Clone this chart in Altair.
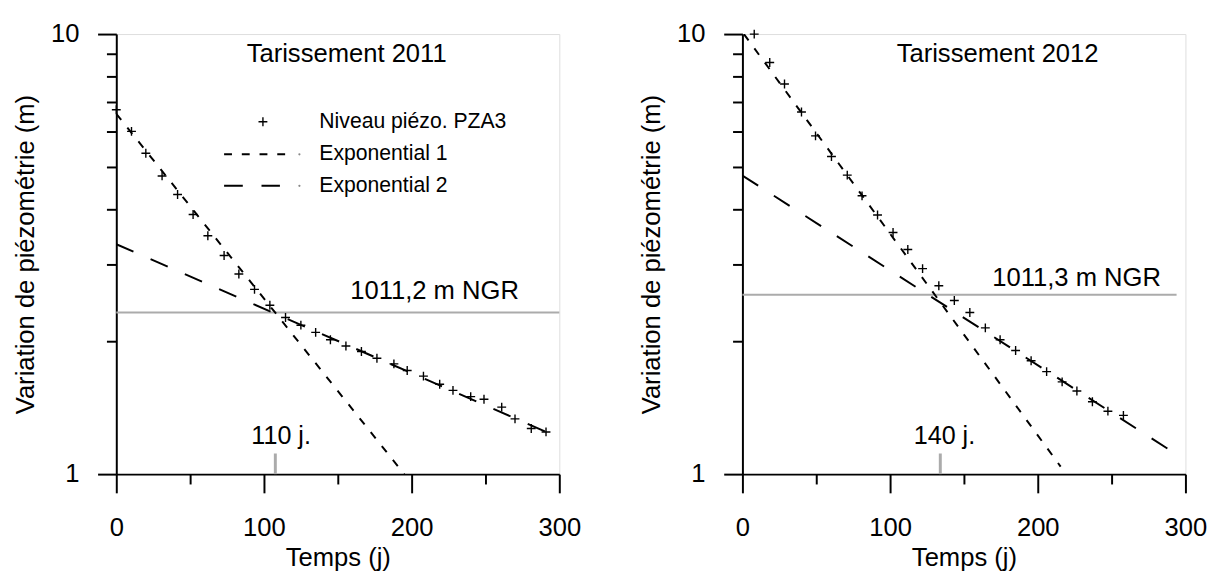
import altair as alt
import pandas as pd

FONT = "Liberation Sans"

# ---------------- data ----------------
# Tarissement 2011 (PZA3)
t_2011 = [0, 10.3, 20, 31, 41.5, 52, 62, 73, 83, 93.6, 104, 114.6, 125, 135, 145,
          155.5, 166, 176.5, 188, 197, 208, 219, 228, 240, 249, 261, 270, 281, 291]
v_2011 = [6.73, 6.01, 5.36, 4.76, 4.32, 3.89, 3.48, 3.14, 2.85, 2.63, 2.42, 2.27, 2.18, 2.10, 2.02,
          1.955, 1.90, 1.834, 1.78, 1.72, 1.67, 1.60, 1.55, 1.50, 1.48, 1.42, 1.335, 1.27, 1.247]

# Tarissement 2012 (PZA3)
t_2012 = [8, 18.5, 28.5, 40, 49.5, 60.3, 71, 81, 91.5, 102, 112, 122, 133, 143.5,
          154, 164.5, 174.5, 185, 195.5, 206, 216.5, 226.5, 237, 247.5, 258]
v_2012 = [10.0, 8.62, 7.70, 6.65, 5.87, 5.27, 4.78, 4.29, 3.88, 3.54, 3.24, 2.93, 2.68, 2.48,
          2.33, 2.15, 2.02, 1.91, 1.81, 1.71, 1.62, 1.545, 1.46, 1.39, 1.36]

# fitted exponentials (end points, straight lines on the log axis)
exp1_2011_t = [0, 195]
exp1_2011_v = [6.59, 1.0]
exp2_2011_t = [0, 294]
exp2_2011_v = [3.33, 1.235]
exp1_2012_t = [1, 215.5]
exp1_2012_v = [10.0, 1.04]
exp2_2012_t = [0, 288.6]
exp2_2012_v = [4.77, 1.139]

panel_titles = ["Tarissement 2011", "Tarissement 2012"]
panel_title_t = [156, 172.8]
panel_title_v = [9.02, 9.02]

ngr_level = [2.33, 2.556]
ngr_end = [300, 294]
ngr_labels = ["1011,2 m NGR", "1011,3 m NGR"]
ngr_label_t = [215.5, 226.3]
ngr_label_v = [2.61, 2.786]

break_day = [107.7, 134]
break_top = [1.114, 1.114]
break_labels = ["110 j.", "140 j."]
break_label_t = [111.6, 136.8]
break_label_v = [1.223, 1.223]

legend_labels = ["Niveau piézo. PZA3", "Exponential 1", "Exponential 2"]
legend_v = [6.32, 5.33, 4.52]
legend_text_t = 137.5
legend_symbol_t = 99.3
legend_line_t = [[73, 115.2], [73, 110.8]]
legend_dot_t = 124

x_major = [0, 100, 200, 300]
x_minor = [50, 150, 250]
y_major = [1, 10]
y_minor = [2, 3, 4, 5, 6, 7, 8, 9]

PLUS = "M-1,0L1,0M0,-1L0,1"
GRAY = "#ababab"

xscale = alt.Scale(domain=[0, 300], nice=False, zero=False)
yscale = alt.Scale(type="log", domain=[1, 10], nice=False)

common_axis = dict(domainColor="black", domainWidth=2, tickColor="black", tickWidth=2,
                   labelColor="black", titleColor="black", grid=False,
                   labelFont=FONT, titleFont=FONT, titleFontWeight="normal")

ax_x_major = alt.Axis(values=x_major, orient="bottom", tickSize=19, labelPadding=22,
                      labelFontSize=26, title="Temps (j)", titleFontSize=26, titlePadding=5,
                      labelFlush=False, labelOverlap=False, **common_axis)
ax_x_minor = alt.Axis(values=x_minor, orient="bottom", tickSize=10, labels=False,
                      domain=False, title=None, tickColor="black", tickWidth=2, grid=False)
ax_y_major = alt.Axis(values=y_major, orient="left", tickSize=19, labelPadding=19,
                      labelFontSize=26, format="~g", title="Variation de piézométrie (m)",
                      titleFontSize=26, titlePadding=12, labelOverlap=False, **common_axis)
ax_y_minor = alt.Axis(values=y_minor, orient="left", tickSize=10, labels=False,
                      domain=False, title=None, tickColor="black", tickWidth=2, grid=False)


def text_layer(txt, t, v, size, align="center"):
    df = pd.DataFrame({"t": [t], "v": [v], "txt": [txt]})
    return alt.Chart(df).mark_text(font=FONT, fontSize=size, align=align,
                                   baseline="middle", color="black").encode(
        x=alt.X("t:Q", scale=xscale, axis=None),
        y=alt.Y("v:Q", scale=yscale, axis=None),
        text="txt:N")


def line_layer(ts, vs, dash):
    df = pd.DataFrame({"t": ts, "v": vs})
    return alt.Chart(df).mark_line(color="black", strokeWidth=2, strokeDash=dash,
                                   clip=True).encode(
        x=alt.X("t:Q", scale=xscale, axis=None),
        y=alt.Y("v:Q", scale=yscale, axis=None))


def panel(i, ts, vs, e1t, e1v, e2t, e2v, with_legend):
    pts = alt.Chart(pd.DataFrame({"t": ts, "v": vs})).mark_point(
        shape=PLUS, filled=False, color="black", strokeWidth=1.4, size=81, opacity=1).encode(
        x=alt.X("t:Q", scale=xscale, axis=ax_x_major),
        y=alt.Y("v:Q", scale=yscale, axis=ax_y_major))

    hline = alt.Chart(pd.DataFrame({"t0": [0], "t1": [ngr_end[i]], "v": [ngr_level[i]]})).mark_rule(
        color=GRAY, strokeWidth=2).encode(
        x=alt.X("t0:Q", scale=xscale, axis=ax_x_minor),
        x2="t1:Q",
        y=alt.Y("v:Q", scale=yscale, axis=ax_y_minor))

    brk = alt.Chart(pd.DataFrame({"t": [break_day[i]], "v0": [1.0], "v1": [break_top[i]]})).mark_rule(
        color=GRAY, strokeWidth=3).encode(
        x=alt.X("t:Q", scale=xscale, axis=None),
        y=alt.Y("v0:Q", scale=yscale, axis=None),
        y2="v1:Q")

    layers = [hline, brk,
              line_layer(e1t, e1v, [8, 10]),
              line_layer(e2t, e2v, [19, 19]),
              pts,
              text_layer(panel_titles[i], panel_title_t[i], panel_title_v[i], 26),
              text_layer(ngr_labels[i], ngr_label_t[i], ngr_label_v[i], 26),
              text_layer(break_labels[i], break_label_t[i], break_label_v[i], 25.5)]

    if with_legend:
        sym = alt.Chart(pd.DataFrame({"t": [legend_symbol_t], "v": [legend_v[0]]})).mark_point(
            shape=PLUS, filled=False, color="black", strokeWidth=1.4, size=81, opacity=1).encode(
            x=alt.X("t:Q", scale=xscale, axis=None),
            y=alt.Y("v:Q", scale=yscale, axis=None))
        layers.append(sym)
        layers.append(line_layer(legend_line_t[0], [legend_v[1]] * 2, [8, 10]))
        layers.append(line_layer(legend_line_t[1], [legend_v[2]] * 2, [19, 19]))
        dots = alt.Chart(pd.DataFrame({"t": [legend_dot_t] * 2, "v": legend_v[1:]})).mark_point(
            shape="circle", filled=True, color="#888888", size=5, opacity=1).encode(
            x=alt.X("t:Q", scale=xscale, axis=None),
            y=alt.Y("v:Q", scale=yscale, axis=None))
        layers.append(dots)
        for lab, v in zip(legend_labels, legend_v):
            layers.append(text_layer(lab, legend_text_t, v, 21.5, align="left"))

    return alt.layer(*layers).resolve_axis(x="independent", y="independent").properties(
        width=450, height=447)


left = panel(0, t_2011, v_2011, exp1_2011_t, exp1_2011_v, exp2_2011_t, exp2_2011_v, True)
right = panel(1, t_2012, v_2012, exp1_2012_t, exp1_2012_v, exp2_2012_t, exp2_2012_v, False)

chart = alt.hconcat(left, right, spacing=57).properties(
    padding={"left": 4, "top": 8, "right": 5, "bottom": 0}
).configure_view(stroke=None).configure(font=FONT)

chart.save("out.html", embed_options={"renderer": "svg", "actions": False})
